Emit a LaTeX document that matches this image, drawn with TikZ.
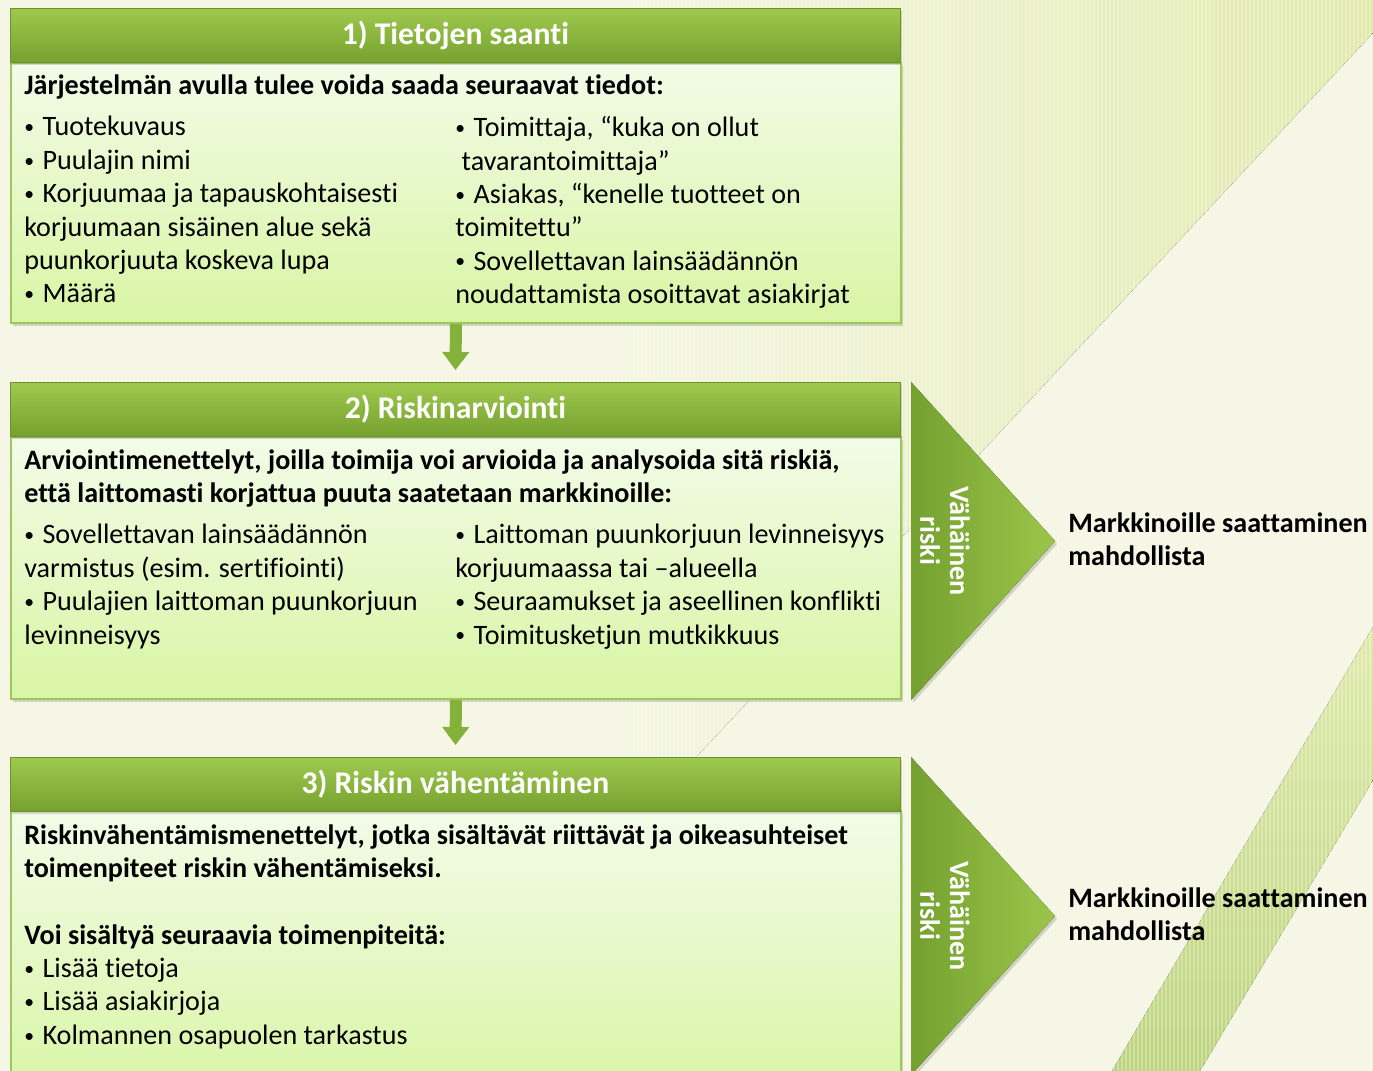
\documentclass[tikz,border=0pt]{standalone}
\usepackage{graphicx}
\usepackage{fontspec}
\setmainfont{Carlito}[Ligatures=NoCommon]
\usetikzlibrary{positioning,shadows,shadings,arrows.meta}

\definecolor{hdtop}{HTML}{9FC94E}
\definecolor{hdbot}{HTML}{76A12E}
\definecolor{hdline}{HTML}{6A942A}
\definecolor{bdtop}{HTML}{F3FBE8}
\definecolor{bdbot}{HTML}{D8F5A4}
\definecolor{bdline}{HTML}{9CC85A}
\definecolor{bgcream}{HTML}{F4F6E2}
\definecolor{bggreen}{HTML}{E0EAAA}
\definecolor{bandgreen}{HTML}{BCD47C}
\definecolor{tridark}{HTML}{74A030}
\definecolor{trilight}{HTML}{9CC64A}
\definecolor{arrgreen}{HTML}{84B13A}

\newcommand{\bul}{\raisebox{0.08em}{\scalebox{0.7}{•}}\hspace{0.3em}}

\begin{document}
\begin{tikzpicture}[x=0.02cm, y=-0.02cm,
  header/.style={rectangle, anchor=north west, inner sep=0pt, minimum width=17.8cm, minimum height=1.08cm,
    top color=hdtop, bottom color=hdbot, draw=hdline, line width=0.5pt, text=white,
    font=\fontsize{18}{22}\selectfont\bfseries,
    drop shadow={opacity=0.3, shadow xshift=0.04cm, shadow yshift=-0.06cm}},
  panel/.style={rectangle, anchor=north west, inner sep=0pt, minimum width=17.8cm,
    top color=bdtop, bottom color=bdbot, draw=bdline, line width=1.2pt,
    drop shadow={opacity=0.3, shadow xshift=0.04cm, shadow yshift=-0.06cm}},
  bodytxt/.style={anchor=north west, align=left, inner sep=0pt, font=\fontsize{16}{19}\selectfont},
  boldtxt/.style={bodytxt, font=\fontsize{16}{19}\selectfont\bfseries},
  downarrow/.style={draw=arrgreen, line width=0.24cm, shorten >=0.24cm, -{Triangle[width=0.52cm, length=0.36cm]}},
  chevron/.style={left color=tridark, right color=trilight,
    drop shadow={opacity=0.3, shadow xshift=0.04cm, shadow yshift=-0.06cm}},
  risktxt/.style={rotate=-90, align=center, text=white, inner sep=0pt, font=\fontsize{16}{17}\selectfont\bfseries},
]
\useasboundingbox (0,0) rectangle (1373,1071);
\clip (0,0) rectangle (1373,1071);

% background
\fill[bgcream] (0,0) rectangle (1373,1071);
\fill[left color=bgcream, right color=bggreen] (600,0) -- (1373,0) -- (1373,33) -- (600,860) -- cycle;
\fill[top color=bggreen, bottom color=bandgreen] (1373,627) -- (1373,780) -- (1200,1071) -- (1112,1071) -- cycle;
\foreach \sx in {2,6,...,1373}
  \draw[white, opacity=0.3, line width=0.03cm] (\sx,0) -- (\sx,1071);

% 1) Tietojen saanti
\node[panel, minimum height=5.2cm] (bd1) at (10,62) {};
\node[header] (hd1) at (10,8) {1) Tietojen saanti};
\node[boldtxt] (t1a) at (24,74) {Järjestelmän avulla tulee voida saada seuraavat tiedot:};
\node[bodytxt] (t1b) at (24,116) {\bul Tuotekuvaus\\\bul Puulajin nimi\\\bul Korjuumaa ja tapauskohtaisesti\\korjuumaan sisäinen alue sekä\\puunkorjuuta koskeva lupa\\\bul Määrä};
\node[bodytxt] (t1c) at (455,116) {\bul Toimittaja, “kuka on ollut\\\ tavarantoimittaja”\\\bul Asiakas, “kenelle tuotteet on\\toimitettu”\\\bul Sovellettavan lainsäädännön\\noudattamista osoittavat asiakirjat};

% 2) Riskinarviointi
\node[panel, minimum height=5.24cm] (bd2) at (10,436) {};
\node[header] (hd2) at (10,382) {2) Riskinarviointi};
\node[boldtxt] (t2a) at (24,449) {Arviointimenettelyt, joilla toimija voi arvioida ja analysoida sitä riskiä,\\että laittomasti korjattua puuta saatetaan markkinoille:};
\node[bodytxt] (t2b) at (24,524) {\bul Sovellettavan lainsäädännön\\varmistus (esim. sertifiointi)\\\bul Puulajien laittoman puunkorjuun\\levinneisyys};
\node[bodytxt] (t2c) at (455,524) {\bul Laittoman puunkorjuun levinneisyys\\korjuumaassa tai –alueella\\\bul Seuraamukset ja aseellinen konflikti\\\bul Toimitusketjun mutkikkuus};

% 3) Riskin vähentäminen
\node[panel, minimum height=5.8cm] (bd3) at (10,810) {};
\node[header] (hd3) at (10,757) {3) Riskin vähentäminen};
\node[bodytxt] (t3a) at (24,824) {\textbf{Riskinvähentämismenettelyt, jotka sisältävät riittävät ja oikeasuhteiset}\\\textbf{toimenpiteet riskin vähentämiseksi.}\\[19pt]\textbf{Voi sisältyä seuraavia toimenpiteitä:}\\\bul Lisää tietoja\\\bul Lisää asiakirjoja\\\bul Kolmannen osapuolen tarkastus};

\draw[downarrow] (bd1.south) -- (hd2.north);
\draw[downarrow] (bd2.south) -- (hd3.north);

% low risk
\fill[chevron] (911,382) -- (1055,541) -- (911,700) -- cycle;
\node[risktxt] (risk1) at (945,541) {Vähäinen\\riski};
\node[boldtxt] (res1) at (1068,512) {Markkinoille saattaminen\\mahdollista};

\fill[chevron] (911,757) -- (1055,916) -- (911,1075) -- cycle;
\node[risktxt] (risk2) at (945,916) {Vähäinen\\riski};
\node[boldtxt] (res2) at (1068,887) {Markkinoille saattaminen\\mahdollista};
\end{tikzpicture}
\end{document}
